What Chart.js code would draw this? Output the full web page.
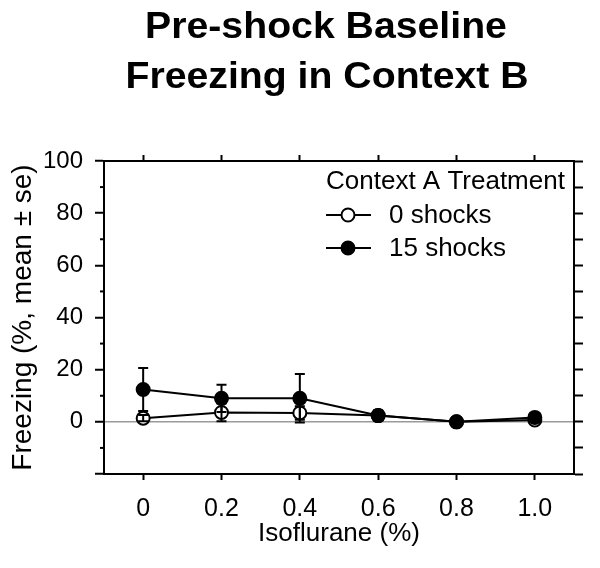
<!DOCTYPE html>
<html><head><meta charset="utf-8">
<script src="https://cdn.jsdelivr.net/npm/chart.js@4/dist/chart.umd.min.js"></script>
<style>html,body{margin:0;padding:0;background:#fff}#wrap{width:600px;height:568px}</style>
</head><body><div id="wrap"><canvas id="c" width="600" height="568"></canvas></div>
<script>
// ---- data ----
const titleLines = ['Pre-shock Baseline', 'Freezing in Context B'];
const xValues = [0, 0.2, 0.4, 0.6, 0.8, 1.0];
const xTickLabels = ['0', '0.2', '0.4', '0.6', '0.8', '1.0'];
const yTickValues = [-20, 0, 20, 40, 60, 80, 100];
const yMinorTickValues = [-10, 10, 30, 50, 70, 90];
const seriesNames = ['0 shocks', '15 shocks'];
const legendTitle = 'Context A Treatment';
const zeroShocksMean = [1.4, 3.6, 3.4, 2.4, 0, 0.7];
const zeroShocksSE = [1.2, 3.4, 2.6, 1.0, 0.3, 0.5];
const fifteenShocksMean = [12.4, 9.0, 9.0, 2.4, 0, 1.7];
const fifteenShocksSE = [8.2, 5.2, 9.3, 2.0, 0.5, 0.8];
const xTitle = 'Isoflurane (%)';
const yTitle = 'Freezing (%, mean \u00b1 se)';

const FONT = '"Liberation Sans", Arial, Helvetica, sans-serif';
const pts = (m) => xValues.map((x, i) => ({x: x, y: m[i]}));

const errorBarPlugin = {
  id: 'errorBars',
  afterDatasetsDraw(chart) {
    const ctx = chart.ctx;
    const xs = chart.scales.x, ys = chart.scales.y;
    const sets = [[zeroShocksMean, zeroShocksSE], [fifteenShocksMean, fifteenShocksSE]];
    ctx.save();
    ctx.strokeStyle = '#000';
    ctx.lineWidth = 2;
    sets.forEach(([m, se]) => {
      m.forEach((v, i) => {
        const px = xs.getPixelForValue(xValues[i]);
        const top = ys.getPixelForValue(v + se[i]);
        const bot = ys.getPixelForValue(v - se[i]);
        ctx.beginPath();
        ctx.moveTo(px, top); ctx.lineTo(px, bot);
        ctx.moveTo(px - 5, top); ctx.lineTo(px + 5, top);
        ctx.moveTo(px - 5, bot); ctx.lineTo(px + 5, bot);
        ctx.stroke();
      });
    });
    ctx.restore();
  }
};

function wideText(ctx, text, x, y, sx) {
  ctx.save();
  ctx.translate(x, y);
  ctx.scale(sx, 1);
  ctx.fillText(text, 0, 0);
  ctx.restore();
}

const decorPlugin = {
  id: 'decor',
  afterDraw(chart) {
    const ctx = chart.ctx;
    const ys = chart.scales.y;
    const ca = chart.chartArea;
    ctx.save();
    // minor ticks on left axis
    ctx.strokeStyle = '#000'; ctx.lineWidth = 2;
    yMinorTickValues.forEach(v => {
      const py = ys.getPixelForValue(v);
      ctx.beginPath(); ctx.moveTo(ca.left - 4, py); ctx.lineTo(ca.left, py); ctx.stroke();
    });
    // title
    ctx.fillStyle = '#000';
    ctx.textAlign = 'center';
    ctx.textBaseline = 'alphabetic';
    ctx.font = 'bold 37px ' + FONT;
    wideText(ctx, titleLines[0], 326, 38, 1.06);
    wideText(ctx, titleLines[1], 327, 88, 1.06);
    // legend
    ctx.font = '26px ' + FONT;
    ctx.textAlign = 'left';
    ctx.textBaseline = 'middle';
    ctx.fillText(legendTitle, 326, 182);
    const rows = [215, 248];
    chart.data.datasets.forEach((ds, i) => {
      const y = rows[i];
      ctx.strokeStyle = '#000'; ctx.lineWidth = 2;
      ctx.beginPath(); ctx.moveTo(326, y); ctx.lineTo(371, y); ctx.stroke();
      ctx.beginPath(); ctx.arc(348, y, 6.5, 0, Math.PI * 2);
      ctx.fillStyle = ds.pointBackgroundColor; ctx.fill(); ctx.stroke();
      ctx.fillStyle = '#000';
      ctx.fillText(ds.label, 389, y + 1);
    });
    ctx.restore();
  }
};

const axisBase = {
  type: 'linear',
  border: {display: true, color: '#000', width: 2},
};

new Chart(document.getElementById('c'), {
  type: 'line',
  data: {
    datasets: [
      {label: seriesNames[0], data: pts(zeroShocksMean), borderColor: '#000', borderWidth: 2,
       pointRadius: 6.5, pointBackgroundColor: '#fff', pointBorderColor: '#000', pointBorderWidth: 2, order: 1, tension: 0},
      {label: seriesNames[1], data: pts(fifteenShocksMean), borderColor: '#000', borderWidth: 2,
       pointRadius: 6.5, pointBackgroundColor: '#000', pointBorderColor: '#000', pointBorderWidth: 2, order: 0, tension: 0}
    ]
  },
  options: {
    responsive: false,
    devicePixelRatio: 1,
    animation: false,
    layout: {padding: {top: 155, left: 0, right: 0, bottom: 0}},
    plugins: {legend: {display: false}, title: {display: false}, tooltip: {enabled: false}},
    scales: {
      x: Object.assign({}, axisBase, {
        position: 'bottom', min: -0.1, max: 1.1,
        afterBuildTicks: s => { s.ticks = xValues.map(v => ({value: v})); },
        afterFit: s => { s.height = 94; },
        grid: {drawOnChartArea: false, tickLength: 6, tickColor: '#000', tickWidth: 2},
        ticks: {color: '#000', font: {family: FONT, size: 25}, padding: 14,
                callback: (v, i) => xTickLabels[i], maxRotation: 0, autoSkip: false},
        title: {display: true, text: xTitle, color: '#000', font: {family: FONT, size: 26}, padding: {top: 0, bottom: 19}}
      }),
      x2: Object.assign({}, axisBase, {
        position: 'top', min: -0.1, max: 1.1,
        afterBuildTicks: s => { s.ticks = xValues.map(v => ({value: v})); },
        afterFit: s => { s.height = 6; },
        grid: {drawOnChartArea: false, tickLength: 6, tickColor: '#000', tickWidth: 2},
        ticks: {display: false}
      }),
      y: Object.assign({}, axisBase, {
        position: 'left', min: -20, max: 100,
        afterBuildTicks: s => { s.ticks = yTickValues.map(v => ({value: v})); },
        afterFit: s => { s.width = 104; },
        grid: {drawOnChartArea: true, tickLength: 9, tickColor: '#000', tickWidth: 2,
               color: c => (c.tick && c.tick.value === 0) ? '#9a9a9a' : 'rgba(0,0,0,0)', lineWidth: 1.5},
        ticks: {color: '#000', font: {family: FONT, size: 24}, padding: 12,
                callback: v => (v >= 0 ? String(v) : '')},
        title: {display: true, text: yTitle, color: '#000', font: {family: FONT, size: 28}, padding: {top: 6, bottom: 0}}
      }),
      y2: Object.assign({}, axisBase, {
        position: 'right', min: -20, max: 100,
        ticks: {display: false, stepSize: 10},
        afterFit: s => { s.width = 26; },
        grid: {drawOnChartArea: false, tickLength: 9, tickColor: '#000', tickWidth: 2}
      })
    }
  },
  plugins: [errorBarPlugin, decorPlugin]
});
</script>
</body></html>
